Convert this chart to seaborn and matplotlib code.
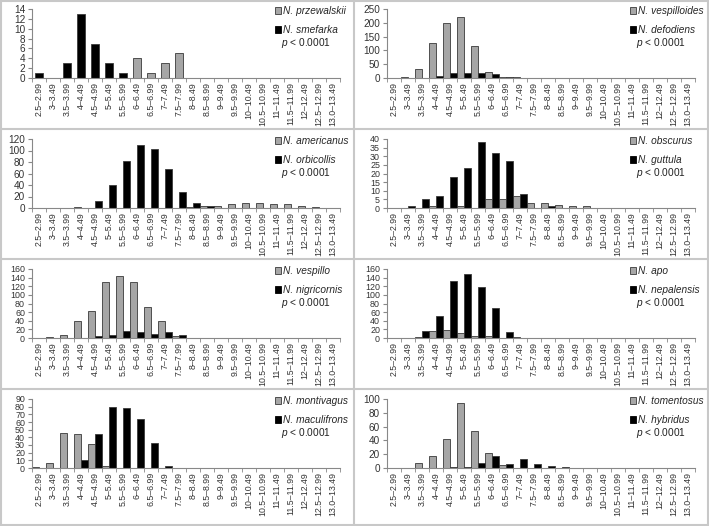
import numpy as np
import pandas as pd
import matplotlib.pyplot as plt
from matplotlib.lines import Line2D
from matplotlib.patches import Patch
import seaborn as sns

sns.set_style("ticks")
plt.rcParams['font.family'] = ['Liberation Sans', 'DejaVu Sans']
plt.rcParams['mathtext.fontset'] = 'custom'
plt.rcParams['mathtext.it'] = 'Liberation Sans:italic'

# size classes (same for every panel)
bins = ['2.5–2.99', '3–3.49', '3.5–3.99', '4–4.49', '4.5–4.99', '5–5.49',
        '5.5–5.99', '6–6.49', '6.5–6.99', '7–7.49', '7.5–7.99', '8–8.49',
        '8.5–8.99', '9–9.49', '9.5–9.99', '10–10.49', '10.5–10.99',
        '11–11.49', '11.5–11.99', '12–12.49', '12.5–12.99', '13.0–13.49']

# species pairs (grey, black)
grey_names = ['N. przewalskii', 'N. vespilloides', 'N. americanus', 'N. obscurus',
              'N. vespillo', 'N. apo', 'N. montivagus', 'N. tomentosus']
black_names = ['N. smefarka', 'N. defodiens', 'N. orbicollis', 'N. guttula',
               'N. nigricornis', 'N. nepalensis', 'N. maculifrons', 'N. hybridus']

przewalskii = [0, 0, 0, 0, 0, 0, 0, 4, 1, 3, 5, 0, 0, 0, 0, 0, 0, 0, 0, 0, 0, 0]
smefarka = [1, 0, 3, 13, 7, 3, 1, 0, 0, 0, 0, 0, 0, 0, 0, 0, 0, 0, 0, 0, 0, 0]
vespilloides = [0, 3, 32, 128, 200, 220, 115, 20, 2, 2, 0, 0, 0, 0, 0, 0, 0, 0, 0, 0, 0, 0]
defodiens = [0, 0, 0, 8, 18, 18, 18, 14, 5, 0, 0, 0, 0, 0, 0, 0, 0, 0, 0, 0, 0, 0]
americanus = [0, 0, 0, 1, 0, 0, 0, 0, 0, 0, 0, 2, 4, 3, 7, 8, 9, 7, 7, 3, 1, 0]
orbicollis = [0, 0, 0, 0, 12, 40, 82, 110, 103, 68, 27, 9, 3, 0, 0, 0, 0, 0, 0, 0, 0, 0]
obscurus = [0, 0, 0, 1, 0, 1, 0, 5, 5, 7, 3, 3, 2, 1, 1, 0, 0, 0, 0, 0, 0, 0]
guttula = [0, 1, 5, 7, 18, 23, 38, 32, 27, 8, 0, 1, 0, 0, 0, 0, 0, 0, 0, 0, 0, 0]
vespillo = [0, 2, 8, 39, 63, 129, 143, 129, 72, 40, 5, 1, 0, 0, 0, 0, 0, 0, 0, 0, 0, 0]
nigricornis = [0, 0, 0, 1, 5, 8, 16, 14, 10, 14, 7, 0, 0, 0, 0, 0, 0, 0, 0, 0, 0, 0]
apo = [0, 0, 3, 16, 18, 11, 5, 5, 0, 2, 0, 0, 0, 0, 0, 0, 0, 0, 0, 0, 0, 0]
nepalensis = [0, 0, 16, 50, 133, 149, 119, 70, 14, 0, 0, 0, 0, 0, 0, 0, 0, 0, 0, 0, 0, 0]
montivagus = [1, 7, 46, 45, 31, 3, 0, 0, 0, 0, 0, 0, 0, 0, 0, 0, 0, 0, 0, 0, 0, 0]
maculifrons = [0, 0, 0, 11, 44, 79, 78, 64, 33, 3, 0, 0, 0, 0, 0, 0, 0, 0, 0, 0, 0, 0]
tomentosus = [0, 0, 7, 18, 42, 94, 54, 22, 5, 0, 0, 0, 0, 0, 0, 0, 0, 0, 0, 0, 0, 0]
hybridus = [0, 0, 0, 0, 1, 2, 7, 17, 6, 13, 6, 3, 2, 0, 0, 0, 0, 0, 0, 0, 0, 0]

grey_vals = [przewalskii, vespilloides, americanus, obscurus, vespillo, apo, montivagus, tomentosus]
black_vals = [smefarka, defodiens, orbicollis, guttula, nigricornis, nepalensis, maculifrons, hybridus]

y_max = [14, 250, 120, 40, 160, 160, 90, 100]
y_step = [2, 50, 20, 5, 20, 20, 10, 20]

GREY = '#a6a6a6'
BORDER = '#c8c8c8'

W, H = 709, 526
fig = plt.figure(figsize=(W / 100, H / 100), dpi=100)

row_tops = [0, 130, 260, 390]
col_lefts = [0, 355]

for k in range(8):
    r, c = k // 2, k % 2
    top_px = row_tops[r] + 9
    bot_px = row_tops[r] + 78
    left_px = col_lefts[c] + 32
    right_px = col_lefts[c] + 340
    ax = fig.add_axes([left_px / W, 1 - bot_px / H,
                       (right_px - left_px) / W, (bot_px - top_px) / H])

    df = pd.DataFrame({
        'bin': bins * 2,
        'count': grey_vals[k] + black_vals[k],
        'species': [grey_names[k]] * len(bins) + [black_names[k]] * len(bins),
    })
    # first panel: bars overlaid in the middle, the rest side by side
    dodge = k != 0
    sns.barplot(data=df, x='bin', y='count', hue='species',
                hue_order=[grey_names[k], black_names[k]],
                palette=[GREY, 'black'], dodge=dodge,
                width=1.0 if dodge else 0.55, gap=0,
                edgecolor='#3a3a3a', linewidth=0.6, legend=False, ax=ax)

    n_ticks = y_max[k] // y_step[k] + 1
    ax.set_xlim(-0.5, len(bins) - 0.5)
    ax.set_ylim(0, y_max[k])
    ax.set_yticks(np.arange(0, y_max[k] + 1, y_step[k]))
    ax.set_xticks(range(len(bins)))
    ax.set_xticklabels(bins, rotation=90, fontsize=6.3, color='#333333')
    ax.set_xticks(np.arange(-0.5, len(bins), 1), minor=True)
    ax.tick_params(axis='x', which='major', length=0, pad=3)
    ax.tick_params(axis='x', which='minor', length=3, color='#888888')
    ax.tick_params(axis='y', labelsize=7.2 if n_ticks < 9 else 6.4, length=3,
                   color='#888888', labelcolor='#333333', pad=2)
    ax.set_xlabel('')
    ax.set_ylabel('')
    sns.despine(ax=ax, top=True, right=True)
    for s in ['left', 'bottom']:
        ax.spines[s].set_color('#888888')
        ax.spines[s].set_linewidth(0.8)
    ax.patch.set_alpha(0)

    handles = [Patch(facecolor=GREY, edgecolor='#3a3a3a', linewidth=0.6),
               Patch(facecolor='black', edgecolor='black', linewidth=0.6)]
    ax.legend(handles, [grey_names[k], black_names[k]], loc='upper left',
              bbox_to_anchor=(0.79, 1.04), frameon=False,
              prop={'style': 'italic', 'size': 7.3}, labelspacing=0.85,
              handlelength=0.6, handleheight=0.6, handletextpad=0.2,
              borderaxespad=0, borderpad=0)
    ax.text(0.89, 0.5, r'$p$ < 0.0001', transform=ax.transAxes,
            ha='center', va='center', fontsize=7.3, color='#222222')

# grey cell borders like the original table layout
for y in [1, 129, 259, 389, 525]:
    fig.add_artist(Line2D([0, 1], [1 - y / H, 1 - y / H],
                          transform=fig.transFigure, color=BORDER, lw=1.5))
for x in [1, 354, 708]:
    fig.add_artist(Line2D([x / W, x / W], [0, 1],
                          transform=fig.transFigure, color=BORDER, lw=1.5))

fig.savefig('out.png', dpi=100)
